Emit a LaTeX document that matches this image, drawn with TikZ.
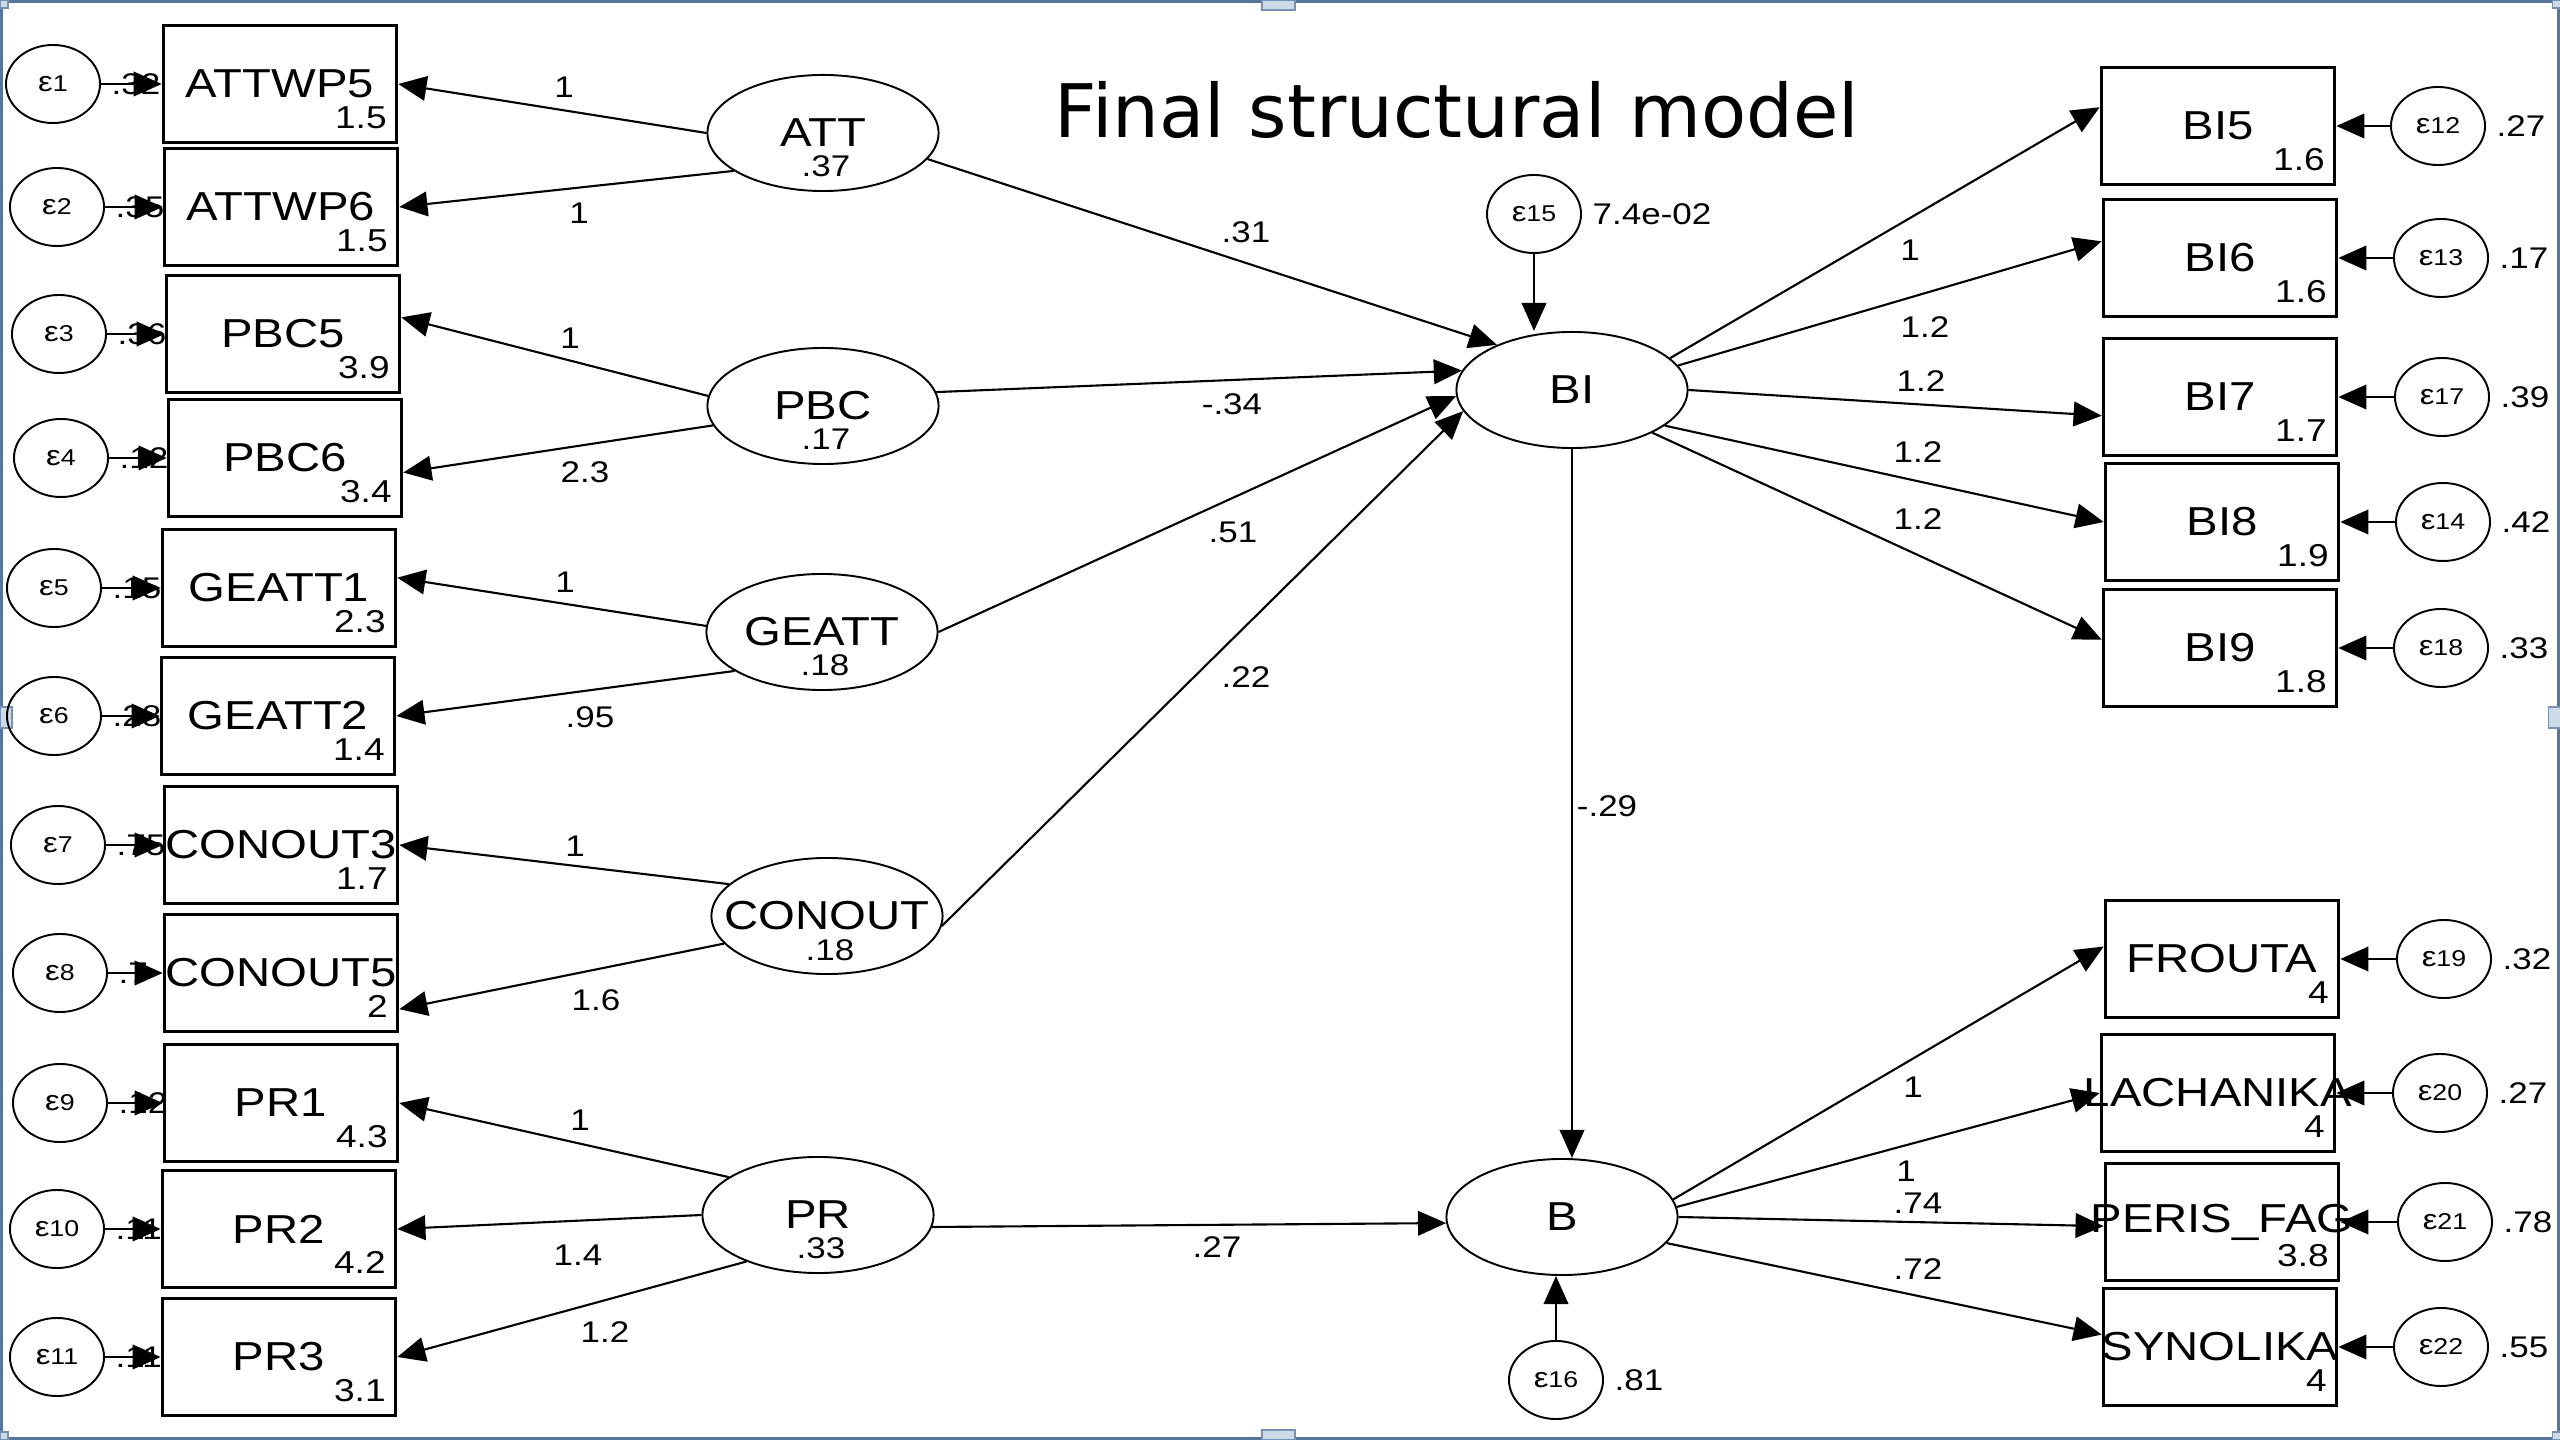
\documentclass[tikz,border=0pt]{standalone}
\usepackage{fontspec}
\usetikzlibrary{shapes.geometric,arrows.meta,calc}
\newfontfamily\semf{Liberation Sans}[FakeStretch=1.17]
\newfontfamily\titlef{DejaVu Sans}
\newcommand\zw[1]{\makebox[0pt]{\raisebox{-1.1pt}{#1}}}
\newcommand\errlab[1]{\makebox[0pt]{{\fontsize{8}{8}\selectfont ε}{\fontsize{6.5}{6.5}\selectfont #1}}}
\definecolor{frameblue}{RGB}{88,118,156}
\definecolor{handlefill}{RGB}{205,218,232}
\tikzset{
  obs/.style={draw,line width=1pt,rectangle,minimum width=2.33cm,minimum height=1.17cm,inner sep=0pt,font=\semf\fontsize{11.5}{12}\selectfont},
  lat/.style={draw,line width=0.55pt,ellipse,minimum width=2.31cm,minimum height=1.16cm,inner sep=0pt,font=\semf\fontsize{11.5}{12}\selectfont},
  err/.style={draw,line width=0.55pt,ellipse,minimum width=0.94cm,minimum height=0.78cm,inner sep=0pt,font=\semf},
  icpt/.style={inner sep=0pt,anchor=east,font=\semf\fontsize{9}{9}\selectfont},
  var/.style={inner sep=0pt,font=\semf\fontsize{8.5}{9}\selectfont},
  lbl/.style={inner sep=0pt,font=\semf\fontsize{8.5}{9}\selectfont},
  arr/.style={line width=0.6pt,-{Triangle[length=8pt,width=7pt]}},
  handle/.style={draw=frameblue!80,fill=handlefill,line width=0.3pt},
}
\newcommand\obsbox[5]{%
  \node[obs] (#1) at (#2,#3) {\zw{#4}};
  \node[icpt] (#1i) at ($(#1.south east)+(-11,-27)$) {#5};
}
\newcommand\errnode[5]{%
  \node[err] (#1) at (#2,#3) {\errlab{#4}};
  \node[var,anchor=west] (#1v) at ($(#1.east)+(10,0)$) {#5};
}
\begin{document}
\begin{tikzpicture}[x=0.01cm,y=-0.01cm]
\useasboundingbox (0,0) rectangle (2560,1440);
\fill[white] (0,0) rectangle (2560,1440);
% frame and handles
\draw[frameblue,line width=0.9pt] (1.5,1.5) rectangle (2558.5,1438.5);
\draw[handle] (1262,0) rectangle (1295,10);
\draw[handle] (1262,1430) rectangle (1295,1440);
\draw[handle] (0,707) rectangle (12,728);
\draw[handle] (2548,707) rectangle (2560,728);
\draw[handle] (0,0) rectangle (8,8);
\draw[handle] (2552,0) rectangle (2560,8);
\draw[handle] (0,1432) rectangle (8,1440);
\draw[handle] (2552,1432) rectangle (2560,1440);

% title
\node[font=\titlef\fontsize{21}{24}\selectfont,anchor=base,inner sep=0pt] (title) at (1457,138) {Final structural model};

% left observed
\obsbox{ATTWP5}{280}{84}{ATTWP5}{1.5}
\obsbox{ATTWP6}{281}{207}{ATTWP6}{1.5}
\obsbox{PBC5}{283}{334}{PBC5}{3.9}
\obsbox{PBC6}{285}{458}{PBC6}{3.4}
\obsbox{GEATT1}{279}{588}{GEATT1}{2.3}
\obsbox{GEATT2}{278}{716}{GEATT2}{1.4}
\obsbox{CONOUT3}{281}{845}{CONOUT3}{1.7}
\obsbox{CONOUT5}{281}{973}{CONOUT5}{2}
\obsbox{PR1}{281}{1103}{PR1}{4.3}
\obsbox{PR2}{279}{1229}{PR2}{4.2}
\obsbox{PR3}{279}{1357}{PR3}{3.1}

% left errors
\errnode{e1}{53}{84}{1}{.32}
\errnode{e2}{57}{207}{2}{.35}
\errnode{e3}{59}{334}{3}{.36}
\errnode{e4}{61}{458}{4}{.12}
\errnode{e5}{54}{588}{5}{.15}
\errnode{e6}{54}{716}{6}{.28}
\errnode{e7}{58}{845}{7}{.75}
\errnode{e8}{60}{973}{8}{.7}
\errnode{e9}{60}{1103}{9}{.12}
\errnode{e10}{57}{1229}{10}{.11}
\errnode{e11}{57}{1357}{11}{.11}

% latent
\node[lat] (ATT) at (823,133) {\zw{ATT}};
\node[var] (ATTv) at (826,166) {.37};
\node[lat] (PBC) at (823,406) {\zw{PBC}};
\node[var] (PBCv) at (826,439) {.17};
\node[lat] (GEATT) at (822,632) {\zw{GEATT}};
\node[var] (GEATTv) at (825,665) {.18};
\node[lat] (CONOUT) at (827,916) {\zw{CONOUT}};
\node[var] (CONOUTv) at (830,950) {.18};
\node[lat] (PR) at (818,1215) {\zw{PR}};
\node[var] (PRv) at (821,1248) {.33};
\node[lat] (BI) at (1572,390) {\zw{BI}};
\node[lat] (B) at (1562,1217) {\zw{B}};

% structural errors
\errnode{e15}{1534}{214}{15}{7.4e-02}
\errnode{e16}{1556}{1380}{16}{.81}

% right observed
\obsbox{BI5}{2218}{126}{BI5}{1.6}
\obsbox{BI6}{2220}{258}{BI6}{1.6}
\obsbox{BI7}{2220}{397}{BI7}{1.7}
\obsbox{BI8}{2222}{522}{BI8}{1.9}
\obsbox{BI9}{2220}{648}{BI9}{1.8}
\obsbox{FROUTA}{2222}{959}{FROUTA}{4}
\obsbox{LACHANIKA}{2218}{1093}{LACHANIKA}{4}
\obsbox{PERIS}{2222}{1222}{PERIS\_FAG}{3.8}
\obsbox{SYNOLIKA}{2220}{1347}{SYNOLIKA}{4}

% right errors
\errnode{e12}{2438}{126}{12}{.27}
\errnode{e13}{2441}{258}{13}{.17}
\errnode{e17}{2442}{397}{17}{.39}
\errnode{e14}{2443}{522}{14}{.42}
\errnode{e18}{2441}{648}{18}{.33}
\errnode{e19}{2444}{959}{19}{.32}
\errnode{e20}{2440}{1093}{20}{.27}
\errnode{e21}{2445}{1222}{21}{.78}
\errnode{e22}{2441}{1347}{22}{.55}

% error arrows
\foreach \e/\o in {e1/ATTWP5,e2/ATTWP6,e3/PBC5,e4/PBC6,e5/GEATT1,e6/GEATT2,e7/CONOUT3,e8/CONOUT5,e9/PR1,e10/PR2,e11/PR3,
  e12/BI5,e13/BI6,e17/BI7,e14/BI8,e18/BI9,e19/FROUTA,e20/LACHANIKA,e21/PERIS,e22/SYNOLIKA}
  \draw[arr] (\e) -- (\o);
\draw[arr] (e15.south) -- (e15.south |- BI.north);
\draw[arr] (e16.north) -- (e16.north |- B.south);

% measurement paths (left)
\draw[arr] (ATT.180) -- (ATTWP5.east);
\draw[arr] (ATT.203) -- (ATTWP6.east);
\draw[arr] (PBC.175) -- (PBC5.8);
\draw[arr] (PBC.190) -- (PBC6.-7);
\draw[arr] (GEATT.177) -- (GEATT1.5);
\draw[arr] (GEATT.204) -- (GEATT2.east);
\draw[arr] (CONOUT.162) -- (CONOUT3.east);
\draw[arr] (CONOUT.195) -- (CONOUT5.-17);
\draw[arr] (PR.157) -- (PR1.east);
\draw[arr] (PR.180) -- (PR2.east);
\draw[arr] (PR.213) -- (PR3.east);

% structural paths
\draw[arr] (ATT.-14) -- (BI.149);
\draw[arr] (PBC.7) -- (BI.170);
\draw[arr] (GEATT.0) -- (BI.183);
\draw[arr] (CONOUT.-5) -- (BI.191);
\draw[arr] (PR.-6) -- (B.183);
\draw[arr] (BI.south) -- (BI.south |- B.north);

% measurement paths (right)
\draw[arr] (BI.18) -- (BI5.171);
\draw[arr] (BI.13) -- (BI6.172);
\draw[arr] (BI.0) -- (BI7.189);
\draw[arr] (BI.-21) -- (BI8.west);
\draw[arr] (BI.-28) -- (BI9.176);
\draw[arr] (B.9) -- (FROUTA.174);
\draw[arr] (B.5) -- (LACHANIKA.west);
\draw[arr] (B.0) -- (PERIS.182);
\draw[arr] (B.-14) -- (SYNOLIKA.174);

% path labels
\node[lbl] (L1) at (564,87) {1};
\node[lbl] (L2) at (579,213) {1};
\node[lbl] (L3) at (570,338) {1};
\node[lbl] (L4) at (585,472) {2.3};
\node[lbl] (L5) at (565,582) {1};
\node[lbl] (L6) at (590,717) {.95};
\node[lbl] (L7) at (575,846) {1};
\node[lbl] (L8) at (596,1000) {1.6};
\node[lbl] (L9) at (580,1120) {1};
\node[lbl] (L10) at (578,1255) {1.4};
\node[lbl] (L11) at (605,1332) {1.2};
\node[lbl] (S1) at (1246,232) {.31};
\node[lbl] (S2) at (1232,404) {-.34};
\node[lbl] (S3) at (1233,532) {.51};
\node[lbl] (S4) at (1246,677) {.22};
\node[lbl] (S5) at (1217,1247) {.27};
\node[lbl] (S6) at (1607,806) {-.29};
\node[lbl] (R1) at (1910,250) {1};
\node[lbl] (R2) at (1925,327) {1.2};
\node[lbl] (R3) at (1921,381) {1.2};
\node[lbl] (R4) at (1918,452) {1.2};
\node[lbl] (R5) at (1918,519) {1.2};
\node[lbl] (R6) at (1913,1087) {1};
\node[lbl] (R7) at (1906,1171) {1};
\node[lbl] (R8) at (1918,1203) {.74};
\node[lbl] (R9) at (1918,1269) {.72};
\end{tikzpicture}
\end{document}
